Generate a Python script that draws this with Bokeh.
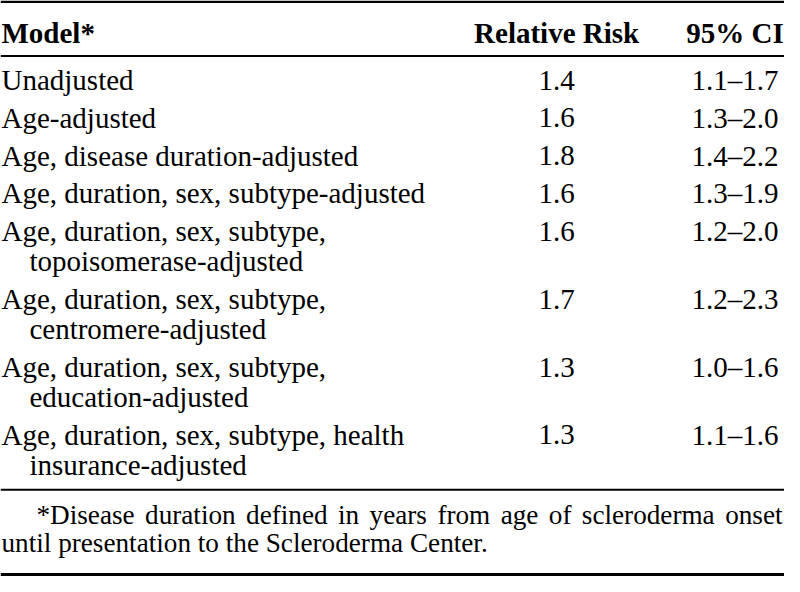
from bokeh.plotting import figure
from bokeh.models import ColumnDataSource, Range1d
from bokeh.core.properties import value
from bokeh.embed import file_html
from bokeh.resources import INLINE

# ---- table content ----
header_model = "Model*"
header_rr = "Relative Risk"
header_ci = "95% CI"

model_lines = [
    ["Unadjusted"],
    ["Age-adjusted"],
    ["Age, disease duration-adjusted"],
    ["Age, duration, sex, subtype-adjusted"],
    ["Age, duration, sex, subtype,", "topoisomerase-adjusted"],
    ["Age, duration, sex, subtype,", "centromere-adjusted"],
    ["Age, duration, sex, subtype,", "education-adjusted"],
    ["Age, duration, sex, subtype, health", "insurance-adjusted"],
]
relative_risk = [1.4, 1.6, 1.8, 1.6, 1.6, 1.7, 1.3, 1.3]
ci_low = [1.1, 1.3, 1.4, 1.3, 1.2, 1.2, 1.0, 1.1]
ci_high = [1.7, 2.0, 2.2, 1.9, 2.0, 2.3, 1.6, 1.6]

footnote_line1 = "*Disease duration defined in years from age of scleroderma onset"
footnote_line2 = "until presentation to the Scleroderma Center."

# ---- layout (reference pixel space 800 x 592, y downward) ----
W, H = 800, 592
FONT = value("'Liberation Serif', 'Times New Roman', Tinos, serif")
BODY = "29px"
NOTE = "27.2px"
SHIFT = 9.8  # renderer places text ~this far below the requested baseline

p = figure(width=784, height=576, x_range=Range1d(0, W), y_range=Range1d(H, 0),
           output_backend="svg", toolbar_location=None, min_border=0)
p.axis.visible = False
p.grid.visible = False
p.outline_line_color = None
p.background_fill_color = "white"
p.border_fill_color = "white"

# horizontal rules
rules_y = [1.3, 57.0, 502.8, 590.0]
rules_w = [2.6, 2.0, 2.0, 3.0]
for yy, ww in zip(rules_y, rules_w):
    p.segment(x0=[0], x1=[W], y0=[yy], y1=[yy], line_color="black", line_width=ww)

def base(yv):
    return yv - SHIFT

# header
p.text(x=[1], y=[base(43.3)], text=[header_model], text_font=FONT, text_font_size=BODY,
       text_font_style="bold", text_align="left", text_baseline="alphabetic", text_color="black")
p.text(x=[567.5, 749.5], y=[base(43.3)] * 2, text=[header_rr, header_ci], text_font=FONT,
       text_font_size=BODY, text_font_style="bold", text_align="center",
       text_baseline="alphabetic", text_color="black")

# rows
first_y = 91.7
row_pitch = 38.8
line_gap = 31.0
first_x, first_y_list, first_txt = [], [], []
cont_x, cont_y, cont_txt = [], [], []
row_base = []
y = first_y
for lines in model_lines:
    row_base.append(base(y))
    first_x.append(1.0)
    first_y_list.append(base(y))
    first_txt.append(lines[0])
    for k, extra in enumerate(lines[1:], start=1):
        cont_x.append(29.5)
        cont_y.append(base(y + k * line_gap))
        cont_txt.append(extra)
    y += row_pitch + line_gap * (len(lines) - 1)

p.text(x="x", y="y", text="t", source=ColumnDataSource(dict(x=first_x, y=first_y_list, t=first_txt)),
       text_font=FONT, text_font_size=BODY, text_align="left", text_baseline="alphabetic",
       text_color="black")
p.text(x="x", y="y", text="t", source=ColumnDataSource(dict(x=cont_x, y=cont_y, t=cont_txt)),
       text_font=FONT, text_font_size=BODY, text_align="left", text_baseline="alphabetic",
       text_color="black")

rr_src = ColumnDataSource(dict(x=[567.5] * len(relative_risk), y=row_base,
                               t=[f"{v:.1f}" for v in relative_risk]))
p.text(x="x", y="y", text="t", source=rr_src, text_font=FONT, text_font_size=BODY,
       text_align="center", text_baseline="alphabetic", text_color="black")

ci_src = ColumnDataSource(dict(x=[749.5] * len(ci_low), y=row_base,
                               t=[f"{a:.1f}\u2013{b:.1f}" for a, b in zip(ci_low, ci_high)]))
p.text(x="x", y="y", text="t", source=ci_src, text_font=FONT, text_font_size=BODY,
       text_align="center", text_baseline="alphabetic", text_color="black")

# footnote: first line justified between indent and right edge
words = footnote_line1.split(" ")
word_x = [36.7, 147.5, 250.6, 344.4, 376.6, 445.8, 510.4, 559.5, 593.2, 798.0]
aligns = ["left"] * (len(words) - 1) + ["right"]
p.text(x="x", y="y", text="t", text_align="a",
       source=ColumnDataSource(dict(x=word_x, y=[base(538.7)] * len(words), t=words, a=aligns)),
       text_font=FONT, text_font_size=NOTE, text_baseline="alphabetic", text_color="black")
p.text(x=[1.0], y=[base(567.5)], text=[footnote_line2], text_font=FONT, text_font_size=NOTE,
       text_align="left", text_baseline="alphabetic", text_color="black")

open("out.html", "w").write(file_html(p, INLINE))
